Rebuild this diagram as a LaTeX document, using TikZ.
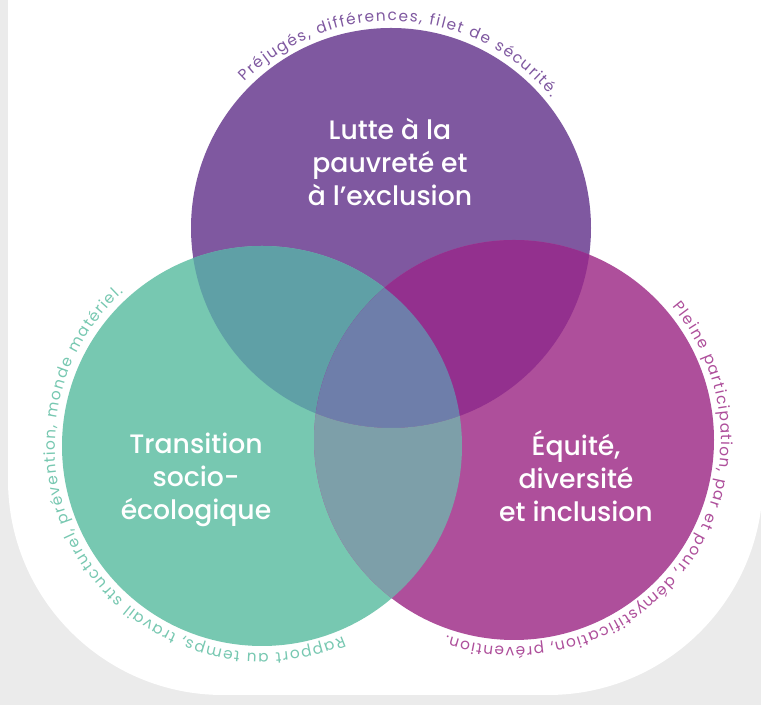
\documentclass[tikz,border=0pt]{standalone}
\usepackage{fontspec}
\setmainfont{Poppins}
\newfontfamily\titlefont{Poppins Medium}
\newcommand\arcfont{\fontsize{11.5pt}{14pt}\selectfont}
\definecolor{back}{RGB}{235,235,235}
\definecolor{lutte}{RGB}{127,88,160}
\definecolor{trans}{RGB}{119,200,177}
\definecolor{equite}{RGB}{174,79,155}
\definecolor{luttetrans}{RGB}{95,160,166}
\definecolor{lutteequite}{RGB}{147,48,142}
\definecolor{transequite}{RGB}{125,159,169}
\definecolor{centre}{RGB}{110,126,170}
\usetikzlibrary{
	calc,
	decorations.text
}
\tikzset{
  % title
	csttitle/.style   ={text=white,align=center,inner sep=0pt,font=\titlefont\fontsize{20pt}{25pt}\selectfont},
  % text on circle
	cstarc/.style 2 args={decorate,decoration={text along path,text align=fit to path,text color=#1,text={|\arcfont|#2}}}
}

\begin{document}
\begin{tikzpicture}[x=0.75pt,y=0.75pt]
	\useasboundingbox (0,0) rectangle (761,705);
	\clip (0,0) rectangle (761,705);
	\fill[back] (0,0) rectangle (761,705);
	\fill[white] (8,720) [rounded corners=161.25pt] -- (8,10) -- (763,10) [sharp corners] -- (763,720) -- cycle;
	\coordinate (L) at (391,477);
	\coordinate (T) at (262,259);
	\coordinate (E) at (514,265);
	\def\r{200}
	% circles
	\fill[lutte] (L) circle[radius=\r];
	\fill[trans] (T) circle[radius=\r];
	\fill[equite] (E) circle[radius=\r];
	% overlaps
	\begin{scope}
		\clip (L) circle[radius=\r];
		\fill[luttetrans] (T) circle[radius=\r];
		\fill[lutteequite] (E) circle[radius=\r];
		\clip (T) circle[radius=\r];
		\fill[centre] (E) circle[radius=\r];
	\end{scope}
	\begin{scope}[even odd rule]
		\clip (T) circle[radius=\r];
		\clip (L) circle[radius=\r] (-10,-10) rectangle (771,715);
		\fill[transequite] (E) circle[radius=\r];
	\end{scope}
	% titles
	\node[csttitle] (lutte) at (390,543) {Lutte à la\\pauvreté et\\à l’exclusion};
	\node[csttitle] (trans) at (196,225) {Transition\\socio-\\écologique};
	\node[csttitle] (equite) at (576,229) {Équité,\\diversité\\et inclusion};
	% texts along circles
	\path[cstarc={lutte}{Préjugés, différences, filet de sécurité.}]
		($(L)+(135:207)$) arc[start angle=135,end angle=39,radius=207];
	\path[cstarc={trans}{Rapport au temps, travail structurel, prévention, monde matériel.}]
		($(T)+(-67:207)$) arc[start angle=-67,end angle=-228,radius=207];
	\path[cstarc={equite}{Pleine participation, par et pour, démystification, prévention.}]
		($(E)+(40:207)$) arc[start angle=40,end angle=-109,radius=207];
\end{tikzpicture}
\end{document}
